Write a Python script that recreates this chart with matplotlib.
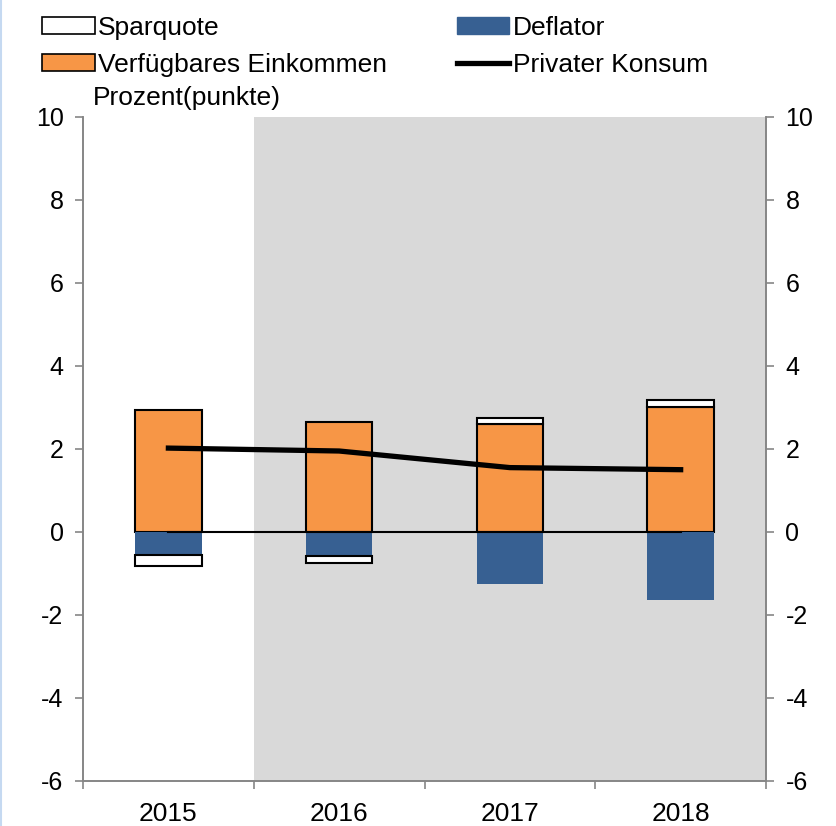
import numpy as np
import matplotlib
matplotlib.use("Agg")
import matplotlib.pyplot as plt
from matplotlib.patches import Patch
from matplotlib.lines import Line2D

plt.rcParams['font.family'] = ['Liberation Sans', 'DejaVu Sans']
plt.rcParams['axes.unicode_minus'] = False

years = ['2015', '2016', '2017', '2018']
einkommen = [2.94, 2.65, 2.60, 3.02]
deflator = [-0.55, -0.57, -1.26, -1.65]
sparquote = [-0.27, -0.19, 0.15, 0.17]
konsum = [2.02, 1.95, 1.55, 1.50]

ORANGE = '#f79646'
BLUE = '#376092'
SPINE = '#868686'


def main():
    fig = plt.figure(figsize=(8.36, 8.26), dpi=100)
    ax = fig.add_axes([0.0993, 0.0545, 0.817, 0.804])
    ax2 = ax.twinx()

    x = np.arange(len(years))
    w = 0.39

    # shaded forecast area
    ax.axvspan(0.5, 3.5, color='#d9d9d9', lw=0, zorder=0)

    ax.bar(x, einkommen, w, color=ORANGE, edgecolor='black', lw=1.5, zorder=2)
    ax.bar(x, deflator, w, color=BLUE, lw=0, zorder=2)
    spar_bottom = [e if s > 0 else d for e, d, s in zip(einkommen, deflator, sparquote)]
    ax.bar(x, sparquote, w, bottom=spar_bottom, color='white', edgecolor='black',
           lw=1.5, zorder=2)

    ax.plot(x, np.zeros(len(x)), color='black', lw=1.5, zorder=3)
    ax.plot(x, konsum, color='black', lw=3.8, zorder=4)

    for a in (ax, ax2):
        a.set_ylim(-6, 10)
        a.set_yticks(np.arange(-6, 11, 2))
        a.spines['top'].set_visible(False)
        for s in ('left', 'right', 'bottom'):
            a.spines[s].set_color(SPINE)
            a.spines[s].set_linewidth(1.2)
        a.tick_params(axis='y', direction='out', length=6, color=SPINE, width=1.2,
                      labelsize=18, pad=8)
    ax.set_xlim(-0.5, 3.5)
    ax.set_xticks(np.arange(-0.5, 4, 1))
    ax.set_xticklabels([])
    ax.set_xticks(x, minor=True)
    ax.set_xticklabels(years, minor=True)
    ax.tick_params(axis='x', which='major', direction='out', length=6, color=SPINE, width=1.2)
    ax.tick_params(axis='x', which='minor', length=0, labelsize=19, pad=15)

    handles = [
        Patch(facecolor='white', edgecolor='black', lw=1.2),
        Patch(facecolor=ORANGE, edgecolor='black', lw=1.2),
        Patch(facecolor=BLUE, edgecolor=BLUE),
        Line2D([], [], color='black', lw=3.8),
    ]
    labels = ['Sparquote', 'Verfügbares Einkommen', 'Deflator', 'Privater Konsum']
    fig.legend(handles, labels, ncol=2, loc='upper left', bbox_to_anchor=(0.050, 0.981),
               frameon=False, fontsize=19, handlelength=2.0, handleheight=0.6,
               handletextpad=0.12, columnspacing=2.65, labelspacing=0.5,
               borderaxespad=0, borderpad=0)

    fig.text(0.111, 0.881, 'Prozent(punkte)', fontsize=19, ha='left', va='center')

    # thin blue frame line at the left edge
    fig.add_artist(Line2D([0.0015, 0.0015], [0, 1], color='#c5d9f1', lw=1.5,
                          transform=fig.transFigure))

    fig.savefig('out.png', dpi=100)


if __name__ == '__main__':
    main()
